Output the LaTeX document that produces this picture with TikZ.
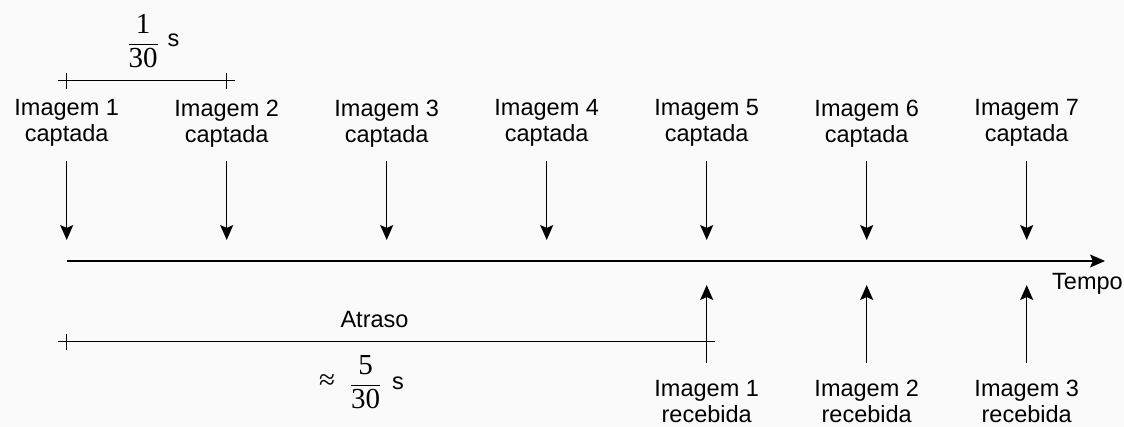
\documentclass[tikz,border=0pt]{standalone}
\usepackage{fontspec}
\setmainfont{Liberation Sans}
\newfontfamily\fracfont{Liberation Serif}
\usetikzlibrary{arrows.meta}
\definecolor{paper}{RGB}{250,250,250}
\begin{document}
\begin{tikzpicture}[x=1pt,y=-1pt,
  lbl/.style={font=\fontsize{23.5}{26}\selectfont, align=center, inner sep=0pt},
  arr/.style={line width=1.4pt, -{Stealth[length=15pt,width=13pt,inset=3pt]}},
  rule/.style={line width=1.3pt},
  frac/.style={font=\fontsize{29}{32}\selectfont\fracfont, inner sep=0pt}]
\fill[paper] (0,0) rectangle (1124,427);
\path[use as bounding box] (0,0) rectangle (1124,427);

% captured frames with their arrows down to the time axis
\foreach \k in {1,...,7} {
  \pgfmathsetmacro\xx{66.7+160*(\k-1)}
  \node[lbl, anchor=north] (cap\k) at (\xx,99.5) {Imagem \k\\captada};
  \coordinate (dn\k) at (\xx,240);
  \draw[arr, shorten <=14pt] (cap\k.south) -- (dn\k);
}

% time axis
\coordinate (t0) at (66.7,261);
\coordinate (t1) at (1105,261);
\draw[arr] (t0) -- (t1);
\node[lbl, anchor=base west] (tempo) at (1052,290) {Tempo};

% received frames with their arrows up to the time axis
\foreach \k/\c in {1/5,2/6,3/7} {
  \pgfmathsetmacro\xx{66.7+160*(\c-1)}
  \node[lbl, anchor=north] (rec\k) at (\xx,380) {Imagem \k\\recebida};
  \coordinate (up\k) at (\xx,285);
  \draw[arr, shorten <=17pt] (rec\k.north) -- (up\k);
}

% frame interval
\coordinate (a1) at (58,80.7);
\coordinate (a2) at (235,80.7);
\draw[rule] (a1) -- (a2);
\draw[rule] (66.7,72.7) -- (66.7,88.7);
\draw[rule] (226.7,72.7) -- (226.7,88.7);
\node[frac] (f1) at (143,40.7) {$\displaystyle\frac{\hbox{1}}{\hbox{30}}$};
\node[lbl] (s1) at (173.5,40) {s};

% delay
\coordinate (b1) at (58,341.7);
\coordinate (b2) at (715,341.7);
\draw[rule] (b1) -- (b2);
\draw[rule] (66.7,333.7) -- (66.7,349.7);
\node[lbl, anchor=base] (atraso) at (374.5,327.5) {Atraso};
\node[frac] (approx) at (327,382) {≈};
\node[frac] (f2) at (365.5,382) {$\displaystyle\frac{\hbox{5}}{\hbox{30}}$};
\node[lbl] (s2) at (398,383) {s};
\end{tikzpicture}
\end{document}
